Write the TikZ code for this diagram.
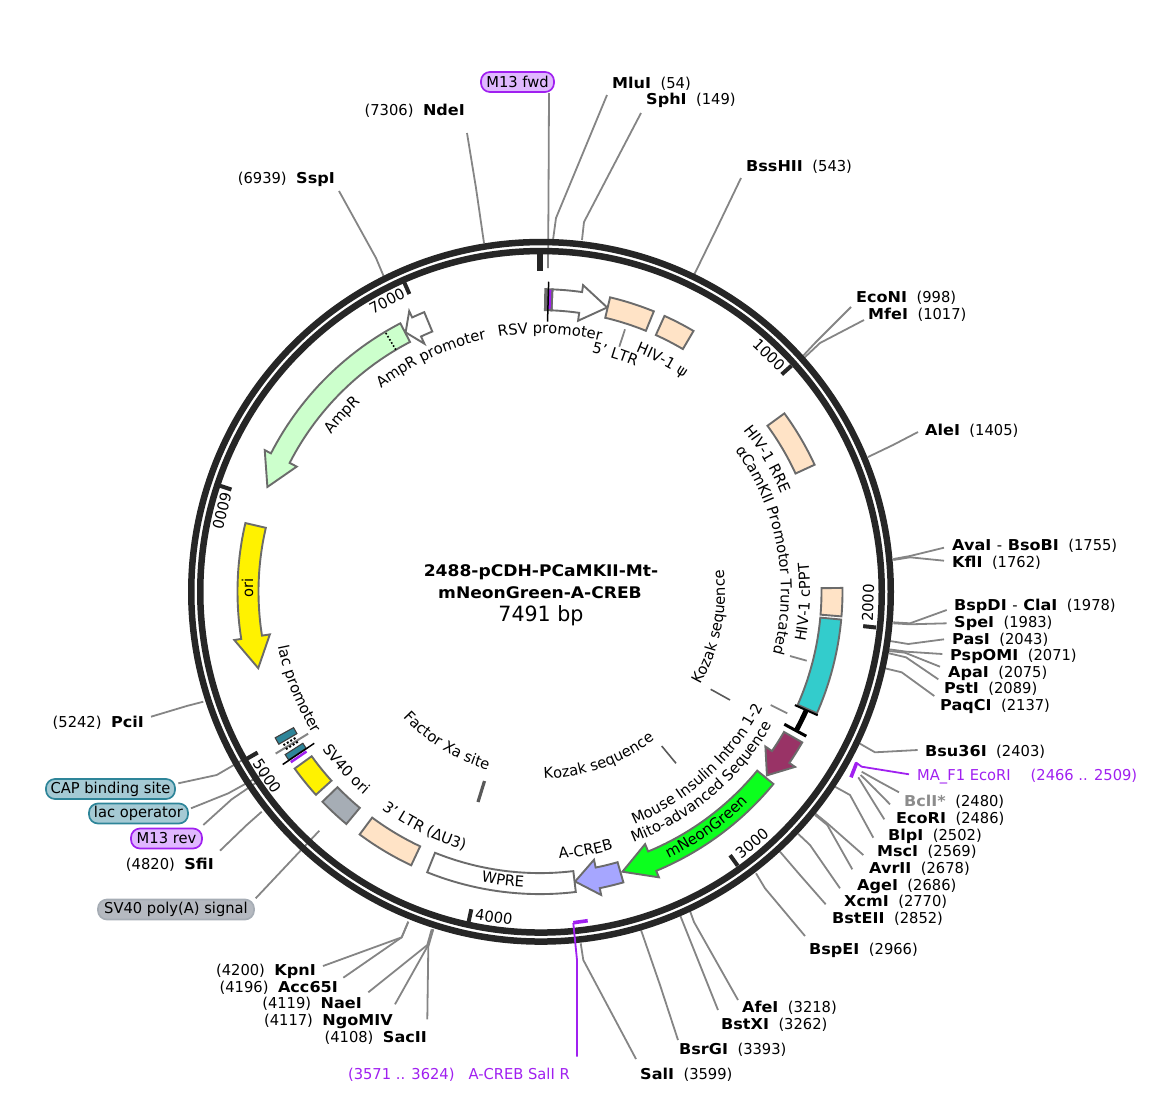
\documentclass[tikz,border=0pt]{standalone}
\usepackage{fontspec}
\setmainfont{DejaVu Sans}[FakeStretch=0.98,BoldFeatures={FakeStretch=1.07}]
\usetikzlibrary{decorations.text}
\definecolor{ringc}{HTML}{262626}
\definecolor{edgec}{HTML}{6B6B6B}
\definecolor{leadc}{HTML}{858585}
\definecolor{tanc}{HTML}{FFE3C6}
\definecolor{cyanc}{HTML}{33CCCC}
\definecolor{greenc}{HTML}{0CFF1E}
\definecolor{ampc}{HTML}{CCFFCC}
\definecolor{plumc}{HTML}{993366}
\definecolor{peric}{HTML}{A6A6FF}
\definecolor{grayf}{HTML}{A6ADB5}
\definecolor{tealc}{HTML}{2E8599}
\definecolor{primc}{HTML}{A020F0}
\definecolor{primf}{HTML}{E0B8FF}
\definecolor{capf}{HTML}{A5CAD4}
\definecolor{polyf}{HTML}{B5B9C0}
\newcommand{\labfont}{\fontsize{15}{18}\selectfont}
\newcommand{\arcfont}{\fontsize{15}{18}\selectfont}
\newcommand{\gapp}{\hspace{9.5pt}}
\newcommand{\featbox}[4][feat]{\draw[#1,fill=#4]
  plot[domain=#2:#3,samples=24,variable=\t] ({540+302.5*sin(\t)},{591.6-302.5*cos(\t)})
  -- plot[domain=#3:#2,samples=24,variable=\t] ({540+281.5*sin(\t)},{591.6-281.5*cos(\t)}) -- cycle;}
\newcommand{\featarrow}[4]{\draw[feat,fill=#4]
  plot[domain=#1:#2,samples=30,variable=\t] ({540+302.5*sin(\t)},{591.6-302.5*cos(\t)})
  -- ({540+309.5*sin(#2)},{591.6-309.5*cos(#2)})
  -- ({540+292*sin(#3)},{591.6-292*cos(#3)})
  -- ({540+273.5*sin(#2)},{591.6-273.5*cos(#2)})
  -- plot[domain=#2:#1,samples=30,variable=\t] ({540+281.5*sin(\t)},{591.6-281.5*cos(\t)}) -- cycle;}
\newcommand{\radial}[4]{\draw[#4] ({540+#2*sin(#1)},{591.6-#2*cos(#1)}) -- ({540+#3*sin(#1)},{591.6-#3*cos(#1)});}
\newcommand{\arctextcw}[4]{\path[decorate,decoration={text along path,text align=center,text={|\arcfont|#4}}]
  plot[domain=#1-#2:#1+#2,samples=40,variable=\t] ({540+#3*sin(\t)},{591.6-#3*cos(\t)});}
\newcommand{\arctextccw}[4]{\path[decorate,decoration={text along path,text align=center,text={|\arcfont|#4}}]
  plot[domain=#1+#2:#1-#2,samples=40,variable=\t] ({540+#3*sin(\t)},{591.6-#3*cos(\t)});}
\newcommand{\rsite}[5]{\node[site,anchor=west] (#1) at (#2,#3) {\textbf{#4}\gapp(#5)};}
\newcommand{\lsite}[5]{\node[site,anchor=east] (#1) at (#2,#3) {(#5)\gapp\textbf{#4}};}
\newcommand{\lead}[4]{\coordinate (#1-a) at (#2); \coordinate (#1-b) at (#3); \coordinate (#1-c) at (#4);
  \draw[leader] (#1-a) -- (#1-b) -- (#1-c);}
\newcommand{\stub}[4][stubline]{\coordinate (#2-a) at (#3); \coordinate (#2-b) at (#4); \draw[#1] (#2-a) -- (#2-b);}
\newcommand{\ticklab}[4]{\node[inner sep=0pt,font=\labfont,rotate=#4] (#1) at (#2,#3) {#1};}
\tikzset{
  feat/.style={draw=edgec,line width=1.9pt,line join=miter},
  thinfeat/.style={draw=black!75,line width=1.1pt},
  leader/.style={draw=leadc,line width=1.8pt},
  stubline/.style={draw=leadc,line width=1.8pt},
  stubdark/.style={draw=black!65,line width=1.6pt},
  primline/.style={draw=primc,line width=1.8pt},
  primbar/.style={draw=primc,line width=3.6pt},
  site/.style={inner sep=0pt,yshift=-1pt,font=\labfont,text=black},
  pill/.style={rounded corners=9pt,line width=1.7pt,inner sep=0pt,font=\labfont,minimum height=20pt}
}
\begin{document}
\begin{tikzpicture}[x=1pt,y=-1pt]
\useasboundingbox (0,0) rectangle (1160,1104);

% ---------- leaders (drawn beneath the ring)
\lead{ndei}{467,133}{476,188}{484,243}
\lead{sspi}{339,191}{376,258}{384,277}
\lead{m13f}{549,93}{548.5,200}{548,268}
\lead{mlui}{607,95}{556,218}{553,240}
\lead{sphi}{641,113}{584,222}{582,240}
\lead{bsshii}{741,178}{716,230}{694,275}
\lead{econi}{851,307}{815,343}{802,357}
\lead{mfei}{864,320}{820,343}{804,358}
\lead{alei}{918,432}{893,445}{868,457}
\lead{avai}{944,547.7}{910,556}{893.3,559}
\lead{kfli}{944,560.7}{910,557.3}{893.3,560}
\lead{bspdi}{946.7,610}{910,623.3}{893.3,622.3}
\lead{spei}{946.7,623.3}{910,624.3}{893.3,623.3}
\lead{pasi}{944,639.3}{908.3,644}{890,641}
\lead{pspomi}{942.3,654}{906.7,651.7}{889,649.3}
\lead{apai}{940,666.7}{905,652.7}{889,651}
\lead{psti}{938.3,679.3}{906,657.3}{889,653.3}
\lead{paqci}{934.3,696}{901.7,672.3}{885,668.3}
\lead{bsui}{917.7,750}{875,752.3}{859.3,743.3}
\lead{bcli}{899,792.3}{880,782}{861.7,771.7}
\lead{ecori}{890,804.3}{875,789}{860.7,775}
\lead{blpi}{884.3,819.3}{871,798}{858.3,777.3}
\lead{msci}{873.3,837.7}{850,795}{835,786.7}
\lead{avrii}{863.3,855}{827.3,823.3}{815,813.3}
\lead{agei}{852.3,869.3}{827.3,825}{815,815}
\lead{xcmi}{840,888.3}{810,845}{798.3,834}
\lead{bsteii}{825.7,904.3}{800,875}{780,851.7}
\lead{bspei}{805,936}{765,888.3}{756,873.3}
\lead{afei}{738,1000}{694,922}{690,911}
\lead{bstxi}{718,1010}{684,925}{680,915}
\lead{bsrgi}{678,1040}{660,985}{641,930}
\lead{sali}{636,1059}{583.3,960}{580.7,943.3}
\lead{kpni}{323,966}{401.7,937.3}{408.3,921.7}
\lead{acci}{343.3,977.7}{401.7,937.3}{408.3,921.7}
\lead{naei}{368.3,992.3}{427.3,945}{431.7,929.3}
\lead{ngoi}{395,1004.3}{427.3,946.7}{432.7,929.3}
\lead{sacii}{427.3,1019.3}{428.3,946.7}{433.3,929.3}
\lead{pcii}{151,716.7}{186.7,706}{203.3,701.7}
\lead{capl}{178.3,783.3}{216.7,775}{256.7,751.7}
\lead{lacl}{191,808.3}{228.3,793.3}{263.3,774}
\lead{m13r}{203.3,825}{231.7,799.3}{260,780}
\lead{sfii}{220,850.7}{246.7,825}{261.7,811.7}
\lead{polyl}{255.7,898.3}{288,864}{319.3,830.7}

% ---------- backbone
\draw[ringc,line width=6.5pt] (541,591.8) circle[radius=349.75];
\draw[ringc,line width=6.5pt] (541,591.8) circle[radius=340.75];

% ---------- ruler ticks
\radial{0}{321}{338}{ringc,line width=6pt}
\radial{48.06}{325}{338}{ringc,line width=4pt}
\radial{96.1}{325}{338}{ringc,line width=4pt}
\radial{144.2}{325}{338}{ringc,line width=4pt}
\radial{192.2}{325}{338}{ringc,line width=4pt}
\radial{240.3}{325}{338}{ringc,line width=4pt}
\radial{288.3}{325}{338}{ringc,line width=4pt}
\radial{336.3}{325}{338}{ringc,line width=4pt}
\ticklab{1000}{769}{355}{-43.9}
\ticklab{2000}{868}{603}{88}
\ticklab{3000}{752}{843}{40}
\ticklab{4000}{494}{917}{-8}
\ticklab{5000}{267}{776}{-56}
\ticklab{6000}{222}{511}{-104}
\ticklab{7000}{387}{301}{27.6}

% ---------- features
\featarrow{2.35}{8}{13.3}{white}
\featbox{13.4}{22.1}{tanc}
\featbox{24.3}{30.5}{tanc}
\featbox{53.9}{65.2}{tanc}
\featbox{89.3}{94.7}{tanc}
\featbox{95.3}{113.7}{cyanc}
\radial{114}{279}{304}{black,line width=2pt}
\radial{118.5}{278}{303}{black,line width=3pt}
\draw[black,line width=5pt] plot[domain=114:118.5,samples=6,variable=\t] ({540+291.5*sin(\t)},{591.6-291.5*cos(\t)});
\featarrow{119.9}{124.5}{129}{plumc}
\featarrow{129.5}{157.4}{163.6}{greenc}
\featarrow{164}{168.6}{173.1}{peric}
\featbox{173.2}{201.9}{white}
\featbox{205.2}{216.6}{tanc}
\featbox{219.8}{226}{grayf}
\featbox{227.8}{234.2}{yellow}
% lac operator / CAP site cluster
\radial{238.5}{272}{310}{draw=leadc,line width=2pt}
\radial{238.2}{285}{300}{black,line width=2pt,dotted}
\radial{239.1}{285}{300}{black,line width=2pt,dotted}
\featbox[thinfeat]{239.7}{241.1}{tealc}
\featbox[thinfeat]{236.2}{237.4}{tealc}
\radial{236.1}{272}{310}{black,line width=1.5pt}
\radial{235.6}{283}{302}{primc,line width=2.5pt}
% AmpR and promoter
\featarrow{337.5}{335}{332.6}{white}
\featarrow{332.5}{297.2}{291}{ampc}
\radial{329.2}{281.5}{302.5}{black,line width=1.6pt,dotted}
\featarrow{283.1}{261}{254.8}{yellow}
% RSV start marks
\featbox{1}{2.35}{edgec}
\radial{1.9}{283}{302}{primc,line width=2.6pt}
\radial{1.6}{270}{310}{black,line width=1.5pt}

% ---------- short label stubs
\stub{ltrs}{625,329.3}{619.3,346.7}
\stub{cppts}{790,656}{806.7,660.7}
\stub{mito}{770.7,705}{787.3,713.3}
\stub[stubdark]{koz1}{710.7,689.3}{730,700}
\stub[stubdark]{koz2}{661.7,746}{676,763.3}
\stub[draw=black!65,line width=3.2pt]{fxa}{484.5,781}{478,802}

% ---------- primer marks
\coordinate (prf-a) at (909,774.3); \coordinate (prf-b) at (861.7,766.7); \coordinate (prf-c) at (856,762.5);
\draw[primline] (prf-a) -- (prf-b) -- (prf-c);
\coordinate (prf-d) at (856.7,762.7); \coordinate (prf-e) at (851,777.3);
\draw[primbar] (prf-d) -- (prf-e);
\coordinate (prr-a) at (577,1056.7); \coordinate (prr-b) at (577,960); \coordinate (prr-c) at (573.3,923);
\draw[primline] (prr-a) -- (prr-b) -- (prr-c);
\coordinate (prr-d) at (573.3,922.7); \coordinate (prr-e) at (587.7,920.7);
\draw[primbar] (prr-d) -- (prr-e);

% ---------- curved labels inside the map
\arctextcw{2.2}{30}{258}{RSV promoter}
\arctextcw{17.6}{15}{244.5}{5' LTR}
\arctextcw{27.8}{18}{258}{HIV-1 ψ}
\arctextcw{59.8}{20}{260}{HIV-1 RRE}
\arctextcw{79.5}{40}{241}{αCamKII Promotor Truncated}
\arctextccw{92.3}{20}{270}{HIV-1 cPPT}
\arctextccw{101.7}{35}{185}{Kozak sequence}
\arctextccw{160.5}{35}{187}{Kozak sequence}
\arctextccw{137.6}{35}{251}{Mouse Insulin Intron 1-2}
\arctextccw{139.7}{35}{268}{Mito-advanced Sequence}
\arctextccw{144.8}{20}{296}{mNeonGreen}
\arctextccw{170}{15}{268}{A-CREB}
\arctextccw{187.3}{15}{296}{WPRE}
\arctextccw{206.2}{20}{269}{3' LTR (ΔU3)}
\arctextccw{211.9}{30}{186}{Factor Xa site}
\arctextccw{227.5}{20}{269}{SV40 ori}
\arctextccw{248}{25}{268}{lac promoter}
\arctextcw{311.7}{15}{261}{AmpR}
\arctextcw{335}{30}{258}{AmpR promoter}
\node[inner sep=0pt,font=\labfont,rotate=90] (orilab) at (247.5,588) {ori};

% ---------- centre title
\node[site,font=\fontsize{16}{19}\selectfont\bfseries] (title1) at (541,571) {2488-pCDH-PCaMKII-Mt-};
\node[site,font=\fontsize{16}{19}\selectfont\bfseries] (title2) at (540,592) {mNeonGreen-A-CREB};
\node[site,font=\fontsize{21}{25}\selectfont] (title3) at (541,615) {7491 bp};

% ---------- site labels
\rsite{lmlu}{612}{83}{MluI}{54}
\rsite{lsph}{646}{99}{SphI}{149}
\rsite{lbss}{746}{166}{BssHII}{543}
\rsite{leco}{856}{297}{EcoNI}{998}
\rsite{lmfe}{868}{314}{MfeI}{1017}
\rsite{lale}{925}{430}{AleI}{1405}
\rsite{lava}{952}{545}{AvaI \textmd{-} BsoBI}{1755}
\rsite{lkfl}{952}{562}{KflI}{1762}
\rsite{lbsp}{954}{605}{BspDI \textmd{-} ClaI}{1978}
\rsite{lspe}{954}{622}{SpeI}{1983}
\rsite{lpas}{952}{639}{PasI}{2043}
\rsite{lpsp}{950}{655}{PspOMI}{2071}
\rsite{lapa}{948}{672}{ApaI}{2075}
\rsite{lpst}{944}{688}{PstI}{2089}
\rsite{lpaq}{940}{705}{PaqCI}{2137}
\rsite{lbsu}{925}{751}{Bsu36I}{2403}
\node[site,anchor=west,text=primc] (lmaf) at (917,776) {MA\_F1 EcoRI\hspace{20pt}(2466 .. 2509)};
\node[site,anchor=west] (lbcl) at (904,800.5) {\textcolor{black!45}{\textbf{BclI*}}\gapp(2480)};
\rsite{lecr}{896}{818}{EcoRI}{2486}
\rsite{lblp}{888}{835}{BlpI}{2502}
\rsite{lmsc}{877}{851}{MscI}{2569}
\rsite{lavr}{869}{868}{AvrII}{2678}
\rsite{lage}{857}{885}{AgeI}{2686}
\rsite{lxcm}{844}{901}{XcmI}{2770}
\rsite{lbst}{832}{918}{BstEII}{2852}
\rsite{lbpe}{809}{949}{BspEI}{2966}
\rsite{lafe}{742}{1007}{AfeI}{3218}
\rsite{lbxi}{721}{1024}{BstXI}{3262}
\rsite{lbsr}{679}{1049}{BsrGI}{3393}
\rsite{lsal}{640}{1074}{SalI}{3599}
\lsite{lnde}{465}{110}{NdeI}{7306}
\lsite{lssp}{335}{178}{SspI}{6939}
\lsite{lpci}{144}{722}{PciI}{5242}
\lsite{lsfi}{214}{864}{SfiI}{4820}
\lsite{lkpn}{316}{970}{KpnI}{4200}
\lsite{lacc}{338}{987}{Acc65I}{4196}
\lsite{lnae}{362}{1003}{NaeI}{4119}
\lsite{lngo}{393}{1020}{NgoMIV}{4117}
\lsite{lsac}{427}{1037}{SacII}{4108}
\node[site,anchor=east,text=primc] (lprr) at (570,1074) {(3571 .. 3624)\hspace{14pt}A-CREB SalI R};

% ---------- pills
\node[pill,draw=primc,fill=primf,minimum width=73pt] (pm13f) at (517.5,82) {M13 fwd};
\node[pill,draw=tealc,fill=capf,minimum width=129pt] (pcap) at (110.5,789) {CAP binding site};
\node[pill,draw=tealc,fill=capf,minimum width=99pt] (plac) at (138.5,813.5) {lac operator};
\node[pill,draw=primc,fill=primf,minimum width=71pt] (pm13r) at (166.5,838.5) {M13 rev};
\node[pill,draw=grayf,fill=polyf,minimum width=156pt] (ppoly) at (176,909.5) {SV40 poly(A) signal};
\end{tikzpicture}
\end{document}
